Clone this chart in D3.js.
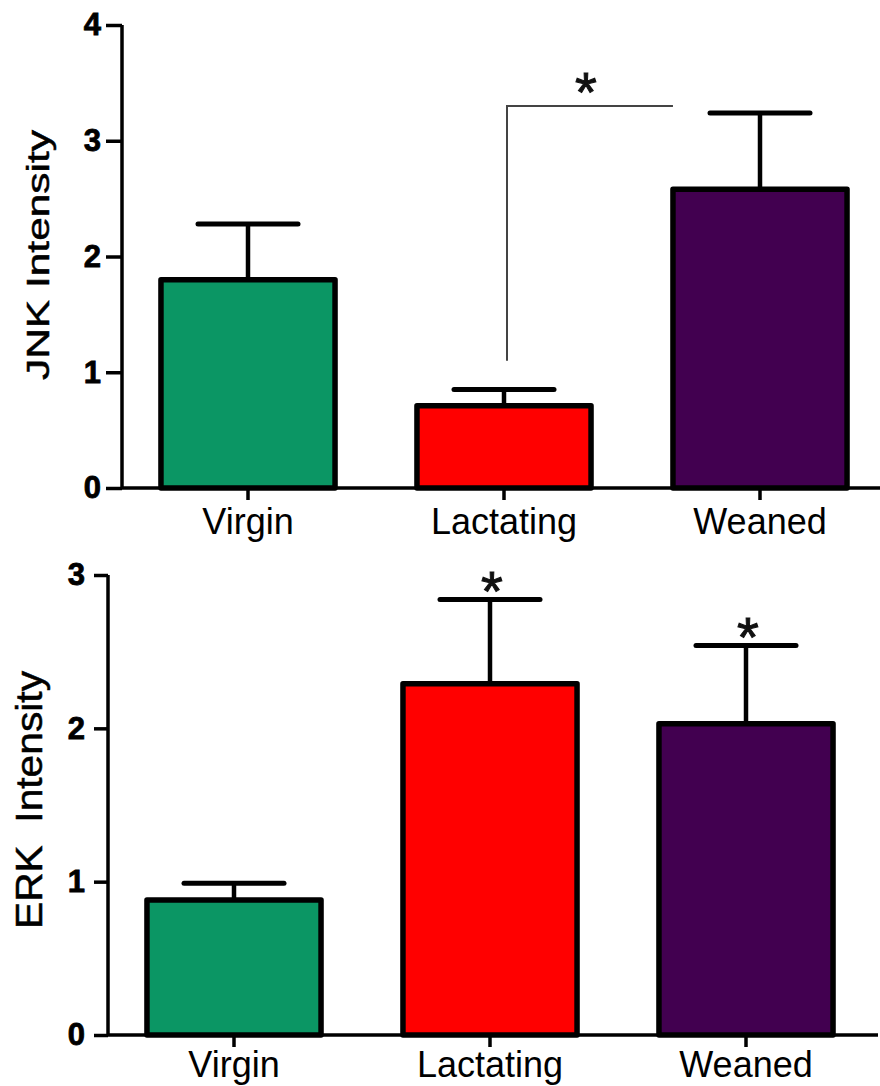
<!DOCTYPE html>
<html>
<head>
<meta charset="utf-8">
<script src="https://cdn.jsdelivr.net/npm/d3@7"></script>
<style>
  body { margin: 0; background: #fff; }
  svg { display: block; font-family: "Liberation Sans", Arial, sans-serif; }
</style>
</head>
<body>
<svg id="chart" width="880" height="1086"></svg>
<script>
// groups and colours
var groups = ["Virgin", "Lactating", "Weaned"];
var colors = ["#0b9664", "#ff0000", "#420050"];

// JNK panel (mean + upper error)
var jnkMean = [1.80, 0.71, 2.58];
var jnkErr = [0.48, 0.14, 0.66];
var jnkTicks = [0, 1, 2, 3, 4];

// ERK panel
var erkMean = [0.88, 2.29, 2.03];
var erkErr = [0.11, 0.55, 0.51];
var erkTicks = [0, 1, 2, 3];
var erkStars = ["Lactating", "Weaned"];

// significance bracket on JNK: Lactating vs Weaned
var jnkBracket = { from: "Lactating", to: "Weaned", level: 3.3, low: 1.1 };

var svg = d3.select("#chart");

function panel(opts) {
  var g = svg.append("g");

  var x = d3.scaleBand()
    .domain(groups)
    .range([opts.left - 2, opts.left + 766])
    .paddingInner(0.32)
    .paddingOuter(0.16);

  var y = d3.scaleLinear()
    .domain([0, opts.max])
    .range([opts.bottom, opts.top]);

  var bw = x.bandwidth();

  // bars
  g.selectAll("rect.bar")
    .data(groups)
    .enter().append("rect")
    .attr("class", "bar")
    .attr("x", function(d) { return x(d); })
    .attr("y", function(d, i) { return y(opts.mean[i]); })
    .attr("width", bw)
    .attr("height", function(d, i) { return opts.bottom - y(opts.mean[i]); })
    .attr("fill", function(d, i) { return colors[i]; })
    .attr("stroke", "#000")
    .attr("stroke-width", 5.5)
    .attr("stroke-linejoin", "round");

  // error bars
  var eb = g.selectAll("g.err")
    .data(groups)
    .enter().append("g")
    .attr("class", "err");

  eb.append("line")
    .attr("x1", function(d) { return x(d) + bw / 2; })
    .attr("x2", function(d) { return x(d) + bw / 2; })
    .attr("y1", function(d, i) { return y(opts.mean[i]); })
    .attr("y2", function(d, i) { return y(opts.mean[i] + opts.err[i]); })
    .attr("stroke", "#000")
    .attr("stroke-width", 4.5);

  eb.append("line")
    .attr("x1", function(d) { return x(d) + bw / 2 - 50; })
    .attr("x2", function(d) { return x(d) + bw / 2 + 50; })
    .attr("y1", function(d, i) { return y(opts.mean[i] + opts.err[i]); })
    .attr("y2", function(d, i) { return y(opts.mean[i] + opts.err[i]); })
    .attr("stroke", "#000")
    .attr("stroke-width", 5)
    .attr("stroke-linecap", "round");

  // y axis
  var ya = g.append("g")
    .attr("transform", "translate(" + opts.left + ",0)")
    .call(d3.axisLeft(y).tickValues(opts.ticks).tickFormat(d3.format("d"))
      .tickSize(opts.tickLen).tickPadding(opts.tickPad));
  ya.attr("font-size", null).attr("font-family", null);
  ya.select(".domain").attr("d", "M0," + opts.top + "V" + opts.bottom)
    .attr("stroke-width", 3.5);
  ya.selectAll(".tick line").attr("stroke-width", 3.5);
  ya.selectAll(".tick text")
    .style("font-size", "31px").style("font-weight", "bold")
    .attr("fill", "#000")
    .attr("stroke", "#000").attr("stroke-width", 0.8);

  // x axis
  var xa = g.append("g")
    .attr("transform", "translate(0," + opts.bottom + ")")
    .call(d3.axisBottom(x).tickSize(12).tickPadding(opts.xPad));
  xa.attr("font-size", null).attr("font-family", null);
  xa.select(".domain").attr("d", "M" + opts.left + ",0H" + opts.right)
    .attr("stroke-width", 3.5);
  xa.selectAll(".tick line").attr("stroke-width", 3.5);
  xa.selectAll(".tick text")
    .style("font-size", "36px")
    .attr("fill", "#000");

  // y title
  g.append("text")
    .attr("transform", "translate(" + opts.titleX + "," + opts.titleY + ") rotate(-90)")
    .attr("text-anchor", "middle")
    .attr("font-size", opts.titleSize)
    .attr("textLength", opts.titleLen)
    .attr("lengthAdjust", "spacingAndGlyphs")
    .attr("fill", "#000")
    .attr("stroke", "#000").attr("stroke-width", 0.5)
    .style("white-space", "pre")
    .text(opts.title);

  return { g: g, x: x, y: y, bw: bw };
}

var jnk = panel({
  left: 122, right: 880, top: 25, bottom: 488, max: 4,
  ticks: jnkTicks, mean: jnkMean, err: jnkErr,
  tickLen: 16, tickPad: 5, xPad: 8,
  title: "JNK Intensity", titleX: 49, titleY: 255, titleSize: 31, titleLen: 250
});

var erk = panel({
  left: 108, right: 878, top: 575, bottom: 1035, max: 3,
  ticks: erkTicks, mean: erkMean, err: erkErr,
  tickLen: 14, tickPad: 9, xPad: 4,
  title: "ERK  Intensity", titleX: 42, titleY: 800, titleSize: 37, titleLen: 258
});

// bracket + star on JNK
var bx1 = jnk.x(jnkBracket.from) + jnk.bw / 2 + 3;
var bx2 = jnk.x(jnkBracket.to);
var by = jnk.y(jnkBracket.level);
jnk.g.append("path")
  .attr("d", "M" + bx1 + "," + jnk.y(jnkBracket.low) + "V" + by + "H" + bx2)
  .attr("fill", "none")
  .attr("stroke", "#444")
  .attr("stroke-width", 2);
jnk.g.append("text")
  .attr("x", (bx1 + bx2) / 2 - 4)
  .attr("y", by + 5)
  .attr("text-anchor", "middle")
  .attr("font-size", 56)
  .attr("fill", "#111")
  .attr("stroke", "#111").attr("stroke-width", 1)
  .text("*");

// stars above ERK error bars
erk.g.selectAll("text.star")
  .data(erkStars)
  .enter().append("text")
  .attr("class", "star")
  .attr("x", function(d) { return erk.x(d) + erk.bw / 2 + 2; })
  .attr("y", function(d) {
    var i = groups.indexOf(d);
    return erk.y(erkMean[i] + erkErr[i]) + 10;
  })
  .attr("text-anchor", "middle")
  .attr("font-size", 56)
  .attr("fill", "#111")
  .attr("stroke", "#111").attr("stroke-width", 1)
  .text("*");
</script>
</body>
</html>
